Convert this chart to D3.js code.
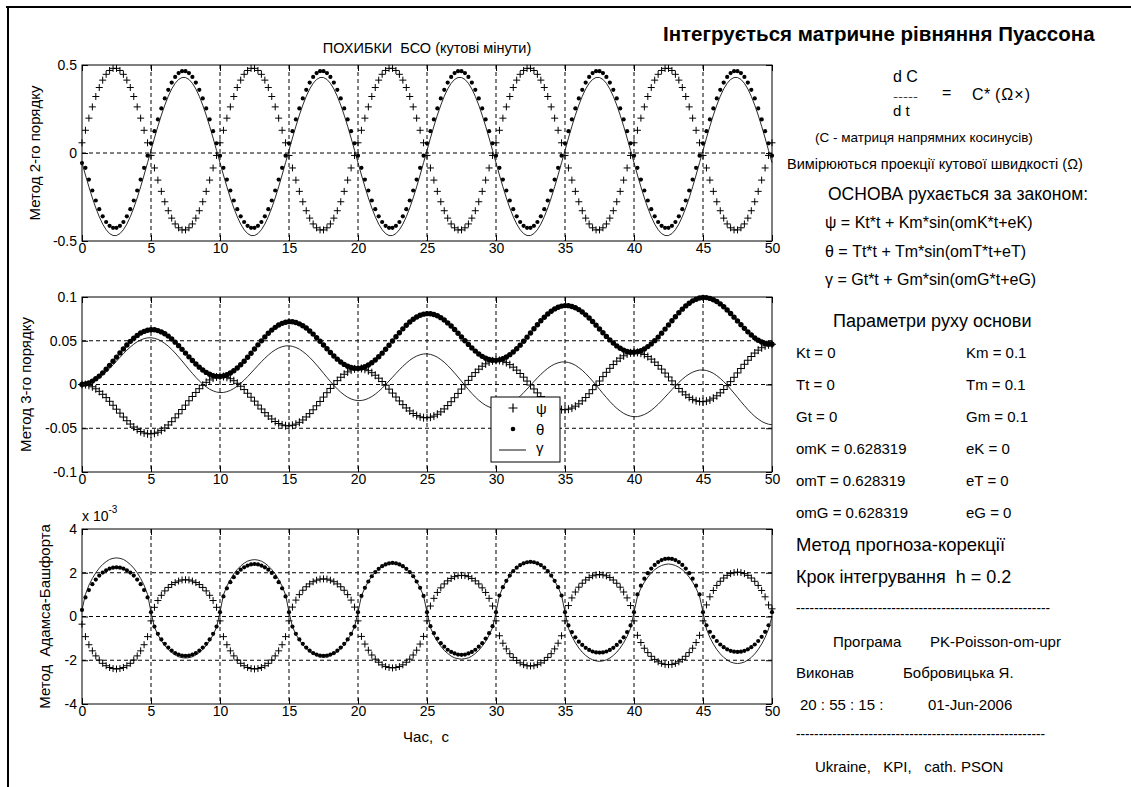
<!DOCTYPE html>
<html><head><meta charset="utf-8">
<script src="https://cdn.jsdelivr.net/npm/d3@7"></script>
<style>
body{margin:0;background:#fff;}
svg{display:block;font-family:"Liberation Sans",Arial,sans-serif;}
svg text{fill:#000;white-space:pre;}
</style></head><body>
<svg id="c" width="1131" height="787"></svg>
<script>
// ---------------- DATA ----------------
const TIME_STEP = 0.25;           // sampling of the plotted series, s
const T_END = 50;
const xTicks = [0,5,10,15,20,25,30,35,40,45,50];
const xTickLabels = ["0","5","10","15","20","25","30","35","40","45","50"];
const yTicks1 = [-0.5,0,0.5];             const yTickLabels1 = ["-0.5","0","0.5"];
const yTicks2 = [-0.1,-0.05,0,0.05,0.1];  const yTickLabels2 = ["-0.1","-0.05","0","0.05","0.1"];
const yTicks3 = [-4,-2,0,2,4];            const yTickLabels3 = ["-4","-2","0","2","4"];
const seriesNames = ["ψ","θ","γ"];

// Panel 1: Метод 2-го порядку (кутові мінути)
const psi1 = [
0.058,0.129,0.198,0.262,0.321,0.372,0.414,0.447,0.469,0.481,0.481,0.469,0.447,0.414,0.372,0.321,0.262,0.198,0.129,0.058,-0.014,-0.085,-0.154,-0.218,-0.277,-0.328,-0.370,-0.403,-0.425,-0.437,-0.437,-0.425,-0.403,-0.370,-0.328,-0.277,-0.218,-0.154,-0.085,-0.014,
0.058,0.129,0.198,0.262,0.321,0.372,0.414,0.447,0.469,0.481,0.481,0.469,0.447,0.414,0.372,0.321,0.262,0.198,0.129,0.058,-0.014,-0.085,-0.154,-0.218,-0.277,-0.328,-0.370,-0.403,-0.425,-0.437,-0.437,-0.425,-0.403,-0.370,-0.328,-0.277,-0.218,-0.154,-0.085,-0.014,
0.058,0.129,0.198,0.262,0.321,0.372,0.414,0.447,0.469,0.481,0.481,0.469,0.447,0.414,0.372,0.321,0.262,0.198,0.129,0.058,-0.014,-0.085,-0.154,-0.218,-0.277,-0.328,-0.370,-0.403,-0.425,-0.437,-0.437,-0.425,-0.403,-0.370,-0.328,-0.277,-0.218,-0.154,-0.085,-0.014,
0.058,0.129,0.198,0.262,0.321,0.372,0.414,0.447,0.469,0.481,0.481,0.469,0.447,0.414,0.372,0.321,0.262,0.198,0.129,0.058,-0.014,-0.085,-0.154,-0.218,-0.277,-0.328,-0.370,-0.403,-0.425,-0.437,-0.437,-0.425,-0.403,-0.370,-0.328,-0.277,-0.218,-0.154,-0.085,-0.014,
0.058,0.129,0.198,0.262,0.321,0.372,0.414,0.447,0.469,0.481,0.481,0.469,0.447,0.414,0.372,0.321,0.262,0.198,0.129,0.058,-0.014,-0.085,-0.154,-0.218,-0.277,-0.328,-0.370,-0.403,-0.425,-0.437,-0.437,-0.425,-0.403,-0.370,-0.328,-0.277,-0.218,-0.154,-0.085,-0.014,
0.058];
const theta1 = [
-0.057,-0.084,-0.151,-0.213,-0.270,-0.319,-0.360,-0.392,-0.414,-0.425,-0.425,-0.414,-0.392,-0.360,-0.319,-0.270,-0.213,-0.151,-0.084,-0.015,0.055,0.124,0.191,0.253,0.310,0.359,0.400,0.432,0.454,0.465,0.465,0.454,0.432,0.400,0.359,0.310,0.253,0.191,0.124,0.055,
-0.015,-0.084,-0.151,-0.213,-0.270,-0.319,-0.360,-0.392,-0.414,-0.425,-0.425,-0.414,-0.392,-0.360,-0.319,-0.270,-0.213,-0.151,-0.084,-0.015,0.055,0.124,0.191,0.253,0.310,0.359,0.400,0.432,0.454,0.465,0.465,0.454,0.432,0.400,0.359,0.310,0.253,0.191,0.124,0.055,
-0.015,-0.084,-0.151,-0.213,-0.270,-0.319,-0.360,-0.392,-0.414,-0.425,-0.425,-0.414,-0.392,-0.360,-0.319,-0.270,-0.213,-0.151,-0.084,-0.015,0.055,0.124,0.191,0.253,0.310,0.359,0.400,0.432,0.454,0.465,0.465,0.454,0.432,0.400,0.359,0.310,0.253,0.191,0.124,0.055,
-0.015,-0.084,-0.151,-0.213,-0.270,-0.319,-0.360,-0.392,-0.414,-0.425,-0.425,-0.414,-0.392,-0.360,-0.319,-0.270,-0.213,-0.151,-0.084,-0.015,0.055,0.124,0.191,0.253,0.310,0.359,0.400,0.432,0.454,0.465,0.465,0.454,0.432,0.400,0.359,0.310,0.253,0.191,0.124,0.055,
-0.015,-0.084,-0.151,-0.213,-0.270,-0.319,-0.360,-0.392,-0.414,-0.425,-0.425,-0.414,-0.392,-0.360,-0.319,-0.270,-0.213,-0.151,-0.084,-0.015,0.055,0.124,0.191,0.253,0.310,0.359,0.400,0.432,0.454,0.465,0.465,0.454,0.432,0.400,0.359,0.310,0.253,0.191,0.124,0.055,
-0.015];
const gamma1 = [
-0.055,-0.125,-0.192,-0.255,-0.312,-0.362,-0.404,-0.436,-0.458,-0.469,-0.469,-0.458,-0.436,-0.404,-0.362,-0.312,-0.255,-0.192,-0.125,-0.055,0.015,0.085,0.152,0.215,0.272,0.322,0.364,0.396,0.418,0.429,0.429,0.418,0.396,0.364,0.322,0.272,0.215,0.152,0.085,0.015,
-0.055,-0.125,-0.192,-0.255,-0.312,-0.362,-0.404,-0.436,-0.458,-0.469,-0.469,-0.458,-0.436,-0.404,-0.362,-0.312,-0.255,-0.192,-0.125,-0.055,0.015,0.085,0.152,0.215,0.272,0.322,0.364,0.396,0.418,0.429,0.429,0.418,0.396,0.364,0.322,0.272,0.215,0.152,0.085,0.015,
-0.055,-0.125,-0.192,-0.255,-0.312,-0.362,-0.404,-0.436,-0.458,-0.469,-0.469,-0.458,-0.436,-0.404,-0.362,-0.312,-0.255,-0.192,-0.125,-0.055,0.015,0.085,0.152,0.215,0.272,0.322,0.364,0.396,0.418,0.429,0.429,0.418,0.396,0.364,0.322,0.272,0.215,0.152,0.085,0.015,
-0.055,-0.125,-0.192,-0.255,-0.312,-0.362,-0.404,-0.436,-0.458,-0.469,-0.469,-0.458,-0.436,-0.404,-0.362,-0.312,-0.255,-0.192,-0.125,-0.055,0.015,0.085,0.152,0.215,0.272,0.322,0.364,0.396,0.418,0.429,0.429,0.418,0.396,0.364,0.322,0.272,0.215,0.152,0.085,0.015,
-0.055,-0.125,-0.192,-0.255,-0.312,-0.362,-0.404,-0.436,-0.458,-0.469,-0.469,-0.458,-0.436,-0.404,-0.362,-0.312,-0.255,-0.192,-0.125,-0.055,0.015,0.085,0.152,0.215,0.272,0.322,0.364,0.396,0.418,0.429,0.429,0.418,0.396,0.364,0.322,0.272,0.215,0.152,0.085,0.015,
-0.055];

// Panel 2: Метод 3-го порядку
const psi2 = [
0,-0.0001,-0.0010,-0.0026,-0.0049,-0.0078,-0.0112,-0.0150,-0.0192,-0.0237,-0.0282,-0.0327,-0.0372,-0.0414,-0.0452,-0.0486,-0.0515,-0.0538,-0.0554,-0.0563,-0.0564,-0.0558,-0.0545,-0.0524,-0.0497,-0.0463,-0.0425,-0.0381,-0.0335,-0.0286,-0.0236,-0.0186,-0.0137,-0.0091,-0.0048,-0.0009,0.0025,0.0052,0.0073,0.0086,
0.0092,0.0091,0.0082,0.0066,0.0043,0.0014,-0.0020,-0.0058,-0.0100,-0.0145,-0.0190,-0.0235,-0.0280,-0.0322,-0.0360,-0.0394,-0.0423,-0.0446,-0.0462,-0.0471,-0.0472,-0.0466,-0.0453,-0.0432,-0.0405,-0.0371,-0.0333,-0.0289,-0.0243,-0.0194,-0.0144,-0.0094,-0.0045,0.0001,0.0044,0.0083,0.0117,0.0144,0.0165,0.0178,
0.0184,0.0183,0.0174,0.0158,0.0135,0.0106,0.0072,0.0034,-0.0008,-0.0053,-0.0098,-0.0143,-0.0188,-0.0230,-0.0268,-0.0302,-0.0331,-0.0354,-0.0370,-0.0379,-0.0380,-0.0374,-0.0361,-0.0340,-0.0313,-0.0279,-0.0241,-0.0197,-0.0151,-0.0102,-0.0052,-0.0002,0.0047,0.0093,0.0136,0.0175,0.0209,0.0236,0.0257,0.0270,
0.0276,0.0275,0.0266,0.0250,0.0227,0.0198,0.0164,0.0126,0.0084,0.0039,-0.0006,-0.0051,-0.0096,-0.0138,-0.0176,-0.0210,-0.0239,-0.0262,-0.0278,-0.0287,-0.0288,-0.0282,-0.0269,-0.0248,-0.0221,-0.0187,-0.0149,-0.0105,-0.0059,-0.0010,0.0040,0.0090,0.0139,0.0185,0.0228,0.0267,0.0301,0.0328,0.0349,0.0362,
0.0368,0.0367,0.0358,0.0342,0.0319,0.0290,0.0256,0.0218,0.0176,0.0131,0.0086,0.0041,-0.0004,-0.0046,-0.0084,-0.0118,-0.0147,-0.0170,-0.0186,-0.0195,-0.0196,-0.0190,-0.0177,-0.0156,-0.0129,-0.0095,-0.0057,-0.0013,0.0033,0.0082,0.0132,0.0182,0.0231,0.0277,0.0320,0.0359,0.0393,0.0420,0.0441,0.0454,
0.0460];
const theta2 = [
0,0.0006,0.0019,0.0039,0.0065,0.0096,0.0133,0.0174,0.0219,0.0265,0.0313,0.0361,0.0407,0.0452,0.0493,0.0530,0.0561,0.0588,0.0607,0.0620,0.0626,0.0625,0.0616,0.0601,0.0580,0.0553,0.0520,0.0484,0.0444,0.0402,0.0359,0.0316,0.0274,0.0234,0.0198,0.0165,0.0138,0.0117,0.0102,0.0093,
0.0092,0.0098,0.0111,0.0131,0.0157,0.0188,0.0225,0.0266,0.0311,0.0357,0.0405,0.0453,0.0499,0.0544,0.0585,0.0622,0.0653,0.0680,0.0699,0.0712,0.0718,0.0717,0.0708,0.0693,0.0672,0.0645,0.0612,0.0576,0.0536,0.0494,0.0451,0.0408,0.0366,0.0326,0.0290,0.0257,0.0230,0.0209,0.0194,0.0185,
0.0184,0.0190,0.0203,0.0223,0.0249,0.0280,0.0317,0.0358,0.0403,0.0449,0.0497,0.0545,0.0591,0.0636,0.0677,0.0714,0.0745,0.0772,0.0791,0.0804,0.0810,0.0809,0.0800,0.0785,0.0764,0.0737,0.0704,0.0668,0.0628,0.0586,0.0543,0.0500,0.0458,0.0418,0.0382,0.0349,0.0322,0.0301,0.0286,0.0277,
0.0276,0.0282,0.0295,0.0315,0.0341,0.0372,0.0409,0.0450,0.0495,0.0541,0.0589,0.0637,0.0683,0.0728,0.0769,0.0806,0.0837,0.0864,0.0883,0.0896,0.0902,0.0901,0.0892,0.0877,0.0856,0.0829,0.0796,0.0760,0.0720,0.0678,0.0635,0.0592,0.0550,0.0510,0.0474,0.0441,0.0414,0.0393,0.0378,0.0369,
0.0368,0.0374,0.0387,0.0407,0.0433,0.0464,0.0501,0.0542,0.0587,0.0633,0.0681,0.0729,0.0775,0.0820,0.0861,0.0898,0.0929,0.0956,0.0975,0.0988,0.0994,0.0993,0.0984,0.0969,0.0948,0.0921,0.0888,0.0852,0.0812,0.0770,0.0727,0.0684,0.0642,0.0602,0.0566,0.0533,0.0506,0.0485,0.0470,0.0461,
0.0460];
const gamma2 = [
0,0.0001,0.0010,0.0025,0.0046,0.0073,0.0106,0.0142,0.0182,0.0224,0.0267,0.0310,0.0352,0.0392,0.0428,0.0461,0.0488,0.0509,0.0524,0.0533,0.0534,0.0528,0.0515,0.0496,0.0469,0.0438,0.0401,0.0360,0.0315,0.0269,0.0221,0.0173,0.0127,0.0082,0.0041,0.0004,-0.0027,-0.0054,-0.0073,-0.0086,
-0.0092,-0.0091,-0.0082,-0.0067,-0.0046,-0.0019,0.0014,0.0050,0.0090,0.0132,0.0175,0.0218,0.0260,0.0300,0.0336,0.0369,0.0396,0.0417,0.0432,0.0441,0.0442,0.0436,0.0423,0.0404,0.0377,0.0346,0.0309,0.0268,0.0223,0.0177,0.0129,0.0081,0.0035,-0.0010,-0.0051,-0.0088,-0.0119,-0.0146,-0.0165,-0.0178,
-0.0184,-0.0183,-0.0174,-0.0159,-0.0138,-0.0111,-0.0078,-0.0042,-0.0002,0.0040,0.0083,0.0126,0.0168,0.0208,0.0244,0.0277,0.0304,0.0325,0.0340,0.0349,0.0350,0.0344,0.0331,0.0312,0.0285,0.0254,0.0217,0.0176,0.0131,0.0085,0.0037,-0.0011,-0.0057,-0.0102,-0.0143,-0.0180,-0.0211,-0.0238,-0.0257,-0.0270,
-0.0276,-0.0275,-0.0266,-0.0251,-0.0230,-0.0203,-0.0170,-0.0134,-0.0094,-0.0052,-0.0009,0.0034,0.0076,0.0116,0.0152,0.0185,0.0212,0.0233,0.0248,0.0257,0.0258,0.0252,0.0239,0.0220,0.0193,0.0162,0.0125,0.0084,0.0039,-0.0007,-0.0055,-0.0103,-0.0149,-0.0194,-0.0235,-0.0272,-0.0303,-0.0330,-0.0349,-0.0362,
-0.0368,-0.0367,-0.0358,-0.0343,-0.0322,-0.0295,-0.0262,-0.0226,-0.0186,-0.0144,-0.0101,-0.0058,-0.0016,0.0024,0.0060,0.0093,0.0120,0.0141,0.0156,0.0165,0.0166,0.0160,0.0147,0.0128,0.0101,0.0070,0.0033,-0.0008,-0.0053,-0.0099,-0.0147,-0.0195,-0.0241,-0.0286,-0.0327,-0.0364,-0.0395,-0.0422,-0.0441,-0.0454,
-0.0460];

// Panel 3: Метод Адамса-Башфорта (values in units of 1e-3)
const psi3 = [
-0.35,-0.92,-1.29,-1.57,-1.80,-1.99,-2.14,-2.25,-2.33,-2.38,-2.40,-2.38,-2.33,-2.25,-2.14,-1.99,-1.80,-1.57,-1.29,-0.92,-0.20,0.42,0.73,0.97,1.17,1.33,1.46,1.55,1.62,1.67,1.68,1.67,1.62,1.55,1.46,1.33,1.17,0.97,0.73,0.42,
-0.20,-0.92,-1.29,-1.57,-1.80,-1.99,-2.14,-2.25,-2.33,-2.38,-2.40,-2.38,-2.33,-2.25,-2.14,-1.99,-1.80,-1.57,-1.29,-0.92,-0.20,0.43,0.75,1.00,1.20,1.36,1.49,1.59,1.66,1.71,1.72,1.71,1.66,1.59,1.49,1.36,1.20,1.00,0.75,0.43,
-0.20,-0.91,-1.26,-1.54,-1.76,-1.95,-2.09,-2.21,-2.29,-2.33,-2.35,-2.33,-2.29,-2.21,-2.09,-1.95,-1.76,-1.54,-1.26,-0.91,-0.20,0.48,0.83,1.10,1.31,1.49,1.63,1.74,1.82,1.87,1.88,1.87,1.82,1.74,1.63,1.49,1.31,1.10,0.83,0.48,
-0.20,-0.88,-1.22,-1.48,-1.70,-1.87,-2.01,-2.12,-2.20,-2.25,-2.26,-2.25,-2.20,-2.12,-2.01,-1.87,-1.70,-1.48,-1.22,-0.88,-0.20,0.50,0.85,1.12,1.34,1.52,1.67,1.78,1.86,1.90,1.92,1.90,1.86,1.78,1.67,1.52,1.34,1.12,0.85,0.50,
-0.20,-0.86,-1.19,-1.45,-1.65,-1.82,-1.96,-2.07,-2.14,-2.19,-2.20,-2.19,-2.14,-2.07,-1.96,-1.82,-1.65,-1.45,-1.19,-0.86,-0.20,0.53,0.90,1.19,1.42,1.61,1.76,1.88,1.96,2.01,2.03,2.01,1.96,1.88,1.76,1.61,1.42,1.19,0.90,0.53,
0.35];
const theta3 = [
0.30,0.87,1.21,1.48,1.69,1.87,2.01,2.11,2.19,2.23,2.25,2.23,2.19,2.11,2.01,1.87,1.69,1.48,1.21,0.87,0.20,-0.46,-0.79,-1.05,-1.25,-1.42,-1.56,-1.67,-1.74,-1.79,-1.80,-1.79,-1.74,-1.67,-1.56,-1.42,-1.25,-1.05,-0.79,-0.46,
0.20,0.92,1.29,1.57,1.80,1.99,2.14,2.25,2.33,2.38,2.40,2.38,2.33,2.25,2.14,1.99,1.80,1.57,1.29,0.92,0.20,-0.46,-0.79,-1.05,-1.25,-1.42,-1.56,-1.67,-1.74,-1.79,-1.80,-1.79,-1.74,-1.67,-1.56,-1.42,-1.25,-1.05,-0.79,-0.46,
0.20,0.94,1.31,1.60,1.84,2.03,2.18,2.30,2.38,2.43,2.45,2.43,2.38,2.30,2.18,2.03,1.84,1.60,1.31,0.94,0.20,-0.44,-0.76,-1.01,-1.22,-1.38,-1.52,-1.62,-1.69,-1.74,-1.75,-1.74,-1.69,-1.62,-1.52,-1.38,-1.22,-1.01,-0.76,-0.44,
0.20,0.96,1.34,1.63,1.87,2.07,2.23,2.35,2.43,2.48,2.50,2.48,2.43,2.35,2.23,2.07,1.87,1.63,1.34,0.96,0.20,-0.41,-0.71,-0.95,-1.15,-1.30,-1.43,-1.53,-1.60,-1.64,-1.65,-1.64,-1.60,-1.53,-1.43,-1.30,-1.15,-0.95,-0.71,-0.41,
0.20,1.01,1.41,1.73,1.98,2.19,2.36,2.49,2.58,2.63,2.65,2.63,2.58,2.49,2.36,2.19,1.98,1.73,1.41,1.01,0.20,-0.40,-0.70,-0.93,-1.12,-1.28,-1.40,-1.50,-1.57,-1.61,-1.62,-1.61,-1.57,-1.50,-1.40,-1.28,-1.12,-0.93,-0.70,-0.40,
0.20];
const gamma3 = [
0.30,1.01,1.43,1.74,2.00,2.21,2.38,2.51,2.61,2.66,2.68,2.66,2.61,2.51,2.38,2.21,2.00,1.74,1.43,1.01,0.20,-0.49,-0.84,-1.11,-1.33,-1.51,-1.65,-1.76,-1.84,-1.88,-1.90,-1.88,-1.84,-1.76,-1.65,-1.51,-1.33,-1.11,-0.84,-0.49,
0.20,0.99,1.39,1.69,1.95,2.15,2.31,2.44,2.53,2.58,2.60,2.58,2.53,2.44,2.31,2.15,1.95,1.69,1.39,0.99,0.20,-0.47,-0.81,-1.08,-1.29,-1.47,-1.61,-1.71,-1.79,-1.84,-1.85,-1.84,-1.79,-1.71,-1.61,-1.47,-1.29,-1.08,-0.81,-0.47,
0.20,0.94,1.31,1.60,1.84,2.03,2.18,2.30,2.38,2.43,2.45,2.43,2.38,2.30,2.18,2.03,1.84,1.60,1.31,0.94,0.20,-0.51,-0.86,-1.14,-1.36,-1.55,-1.69,-1.81,-1.89,-1.93,-1.95,-1.93,-1.89,-1.81,-1.69,-1.55,-1.36,-1.14,-0.86,-0.51,
0.20,0.96,1.34,1.63,1.87,2.07,2.23,2.35,2.43,2.48,2.50,2.48,2.43,2.35,2.23,2.07,1.87,1.63,1.34,0.96,0.20,-0.54,-0.91,-1.20,-1.44,-1.63,-1.78,-1.90,-1.98,-2.03,-2.05,-2.03,-1.98,-1.90,-1.78,-1.63,-1.44,-1.20,-0.91,-0.54,
0.20,0.92,1.29,1.57,1.80,1.99,2.14,2.25,2.33,2.38,2.40,2.38,2.33,2.25,2.14,1.99,1.80,1.57,1.29,0.92,0.20,-0.57,-0.96,-1.26,-1.51,-1.71,-1.87,-1.99,-2.08,-2.13,-2.15,-2.13,-2.08,-1.99,-1.87,-1.71,-1.51,-1.26,-0.96,-0.57,
0.00];

// ---------------- DRAWING ----------------
const time = d3.range(0, T_END + 1e-9, TIME_STEP);
const svg = d3.select("#c");
const FONT = '"Liberation Sans",Arial,sans-serif';

// window frame
svg.append("line").attr("x1",6).attr("x2",1131).attr("y1",7).attr("y2",7).attr("stroke","#000").attr("stroke-width",2);
svg.append("line").attr("x1",8).attr("x2",8).attr("y1",6).attr("y2",787).attr("stroke","#000").attr("stroke-width",2);

const X0 = 82, X1 = 772;
const x = d3.scaleLinear().domain([0, T_END]).range([X0, X1]);

function plusPath(px, py, s){ return `M${px-s},${py}H${px+s}M${px},${py-s}V${py+s}`; }

function panel(cfg){
  const y = d3.scaleLinear().domain(cfg.domain).range([cfg.y1, cfg.y0]);
  const g = svg.append("g");
  // grid
  g.selectAll(null).data(xTicks.filter(d => d > 0 && d < T_END)).join("line")
    .attr("x1", d => x(d)).attr("x2", d => x(d)).attr("y1", cfg.y0).attr("y2", cfg.y1)
    .attr("stroke", "#000").attr("stroke-width", 1).attr("stroke-dasharray", "4,3");
  g.selectAll(null).data(cfg.ticks.filter(d => d > cfg.domain[0] && d < cfg.domain[1])).join("line")
    .attr("x1", X0).attr("x2", X1).attr("y1", d => y(d)).attr("y2", d => y(d))
    .attr("stroke", "#000").attr("stroke-width", 1).attr("stroke-dasharray", "4,3");
  // axes (inward ticks)
  const ax = (sel) => sel.attr("font-size", 14).attr("font-family", FONT)
      .call(s => s.select(".domain").remove())
      .call(s => s.selectAll(".tick line").attr("stroke", "#000"))
      .call(s => s.selectAll(".tick text").attr("fill", "#000"));
  g.append("g").attr("transform", `translate(0,${cfg.y1})`)
    .call(d3.axisBottom(x).tickValues(xTicks).tickFormat((d,i) => xTickLabels[i]).tickSize(-6).tickPadding(2)).call(ax);
  g.append("g").attr("transform", `translate(0,${cfg.y0})`)
    .call(d3.axisTop(x).tickValues(xTicks).tickFormat("").tickSize(-6)).call(ax);
  g.append("g").attr("transform", `translate(${X0},0)`)
    .call(d3.axisLeft(y).tickValues(cfg.ticks).tickFormat((d,i) => cfg.labels[i]).tickSize(-6).tickPadding(5)).call(ax);
  g.append("g").attr("transform", `translate(${X1},0)`)
    .call(d3.axisRight(y).tickValues(cfg.ticks).tickFormat("").tickSize(-6)).call(ax);
  // box
  g.append("rect").attr("x", X0).attr("y", cfg.y0).attr("width", X1 - X0).attr("height", cfg.y1 - cfg.y0)
    .attr("fill", "none").attr("stroke", "#000").attr("stroke-width", 1);
  // ψ : plus markers
  g.append("path").attr("d", cfg.psi.map((v,i) => plusPath(x(time[i]), y(v), cfg.plus)).join(""))
    .attr("stroke", "#000").attr("stroke-width", 1).attr("fill", "none");
  // θ : dots
  g.selectAll(null).data(cfg.theta).join("circle")
    .attr("cx", (d,i) => x(time[i])).attr("cy", d => y(d)).attr("r", cfg.dot).attr("fill", "#000");
  // γ : thin line
  g.append("path").datum(cfg.gamma)
    .attr("d", d3.line().x((d,i) => x(time[i])).y(d => y(d)))
    .attr("fill", "none").attr("stroke", "#111").attr("stroke-width", 0.9);
  // y label
  svg.append("text").attr("transform", `translate(${cfg.labelX},${(cfg.y0+cfg.y1)/2}) rotate(-90)`)
    .attr("text-anchor", "middle").attr("font-size", 15).text(cfg.ylabel);
  return {g, y};
}

panel({y0:65, y1:241, domain:[-0.5,0.5], ticks:yTicks1, labels:yTickLabels1, plus:3.5, dot:2.1,
       psi:psi1, theta:theta1, gamma:gamma1, ylabel:"Метод 2-го порядку", labelX:40});
panel({y0:297, y1:472, domain:[-0.1,0.1], ticks:yTicks2, labels:yTickLabels2, plus:4, dot:2.7,
       psi:psi2, theta:theta2, gamma:gamma2, ylabel:"Метод 3-го порядку", labelX:31});
panel({y0:529, y1:704, domain:[-4,4], ticks:yTicks3, labels:yTickLabels3, plus:3.5, dot:2.1,
       psi:psi3, theta:theta3, gamma:gamma3, ylabel:"Метод  Адамса-Башфорта", labelX:50});

// plot title, x label, exponent
svg.append("text").attr("x", 427).attr("y", 53).attr("text-anchor","middle").attr("font-size",14.5).text("ПОХИБКИ  БСО (кутові мінути)");
svg.append("text").attr("x", 426).attr("y", 742).attr("text-anchor","middle").attr("font-size",15).text("Час,  с");
const ex = svg.append("text").attr("x", 82).attr("y", 521).attr("font-size", 14);
ex.append("tspan").text("x 10");
ex.append("tspan").attr("dy", -8).attr("font-size", 10).text("-3");

// legend in panel 2
const lg = svg.append("g");
lg.append("rect").attr("x",491).attr("y",397).attr("width",69).attr("height",65).attr("fill","#fff").attr("stroke","#000").attr("stroke-width",1);
lg.append("path").attr("d", plusPath(513,408,4.5)).attr("stroke","#000").attr("stroke-width",1.2);
lg.append("circle").attr("cx",513).attr("cy",429).attr("r",2.3).attr("fill","#000");
lg.append("line").attr("x1",499).attr("x2",526).attr("y1",450).attr("y2",450).attr("stroke","#111").attr("stroke-width",1);
[[414,seriesNames[0]],[435,seriesNames[1]],[453,seriesNames[2]]].forEach(([yy,t]) =>
  lg.append("text").attr("x",536).attr("y",yy).attr("font-size",15).text(t));

// right-hand text panel
function txt(x0, y0, size, s, opts={}){
  const t = svg.append("text").attr("x", x0).attr("y", y0).attr("font-size", size).text(s);
  if (opts.bold) t.attr("font-weight", "bold");
  if (opts.len) t.attr("textLength", opts.len).attr("lengthAdjust", "spacingAndGlyphs");
  return t;
}
txt(663, 41, 20.5, "Інтегрується матричне рівняння Пуассона", {bold:true});
txt(893, 82, 16, "d C");
txt(893, 99.5, 9, "-----", {len:25});
txt(893, 115.5, 15, "d t");
txt(942, 98, 16, "=");
txt(972, 100, 16, "C");
txt(984, 100, 16, "*");
txt(995, 100, 16, "(Ω×)").attr("letter-spacing", 1);
txt(815, 142, 13.5, "(С - матриця напрямних косинусів)");
txt(787, 169, 14.5, "Вимірюються проекції кутової швидкості (Ω)");
txt(828, 200, 17.5, "ОСНОВА рухається за законом:");
txt(825, 228, 16, "ψ = Kt*t + Km*sin(omK*t+eK)");
txt(825, 257, 16, "θ = Tt*t + Tm*sin(omT*t+eT)");
txt(825, 285, 16, "γ = Gt*t + Gm*sin(omG*t+eG)");
txt(833, 327, 18, "Параметри руху основи");
const paramLeft  = ["Kt = 0","Tt = 0","Gt = 0","omK = 0.628319","omT = 0.628319","omG = 0.628319"];
const paramRight = ["Km = 0.1","Tm = 0.1","Gm = 0.1","eK = 0","eT = 0","eG = 0"];
paramLeft.forEach((s,i) => txt(796, 358 + 32*i, 15, s));
paramRight.forEach((s,i) => txt(966, 358 + 32*i, 15, s));
txt(796, 551, 18.5, "Метод прогноза-корекції");
txt(796, 583, 18, "Крок інтегрування  h = 0.2");
txt(796, 613, 14, "-".repeat(56), {len:254});
txt(833, 647, 15, "Програма");
txt(930, 647, 15, "PK-Poisson-om-upr");
txt(796, 678, 15, "Виконав");
txt(903, 678, 15, "Бобровицька Я.");
txt(800, 710, 15, "20 : 55 : 15 :");
txt(928, 710, 15, "01-Jun-2006");
txt(796, 739, 14, "-".repeat(55), {len:249});
txt(815, 772, 15, "Ukraine,   KPI,   cath. PSON");
</script>
</body></html>
